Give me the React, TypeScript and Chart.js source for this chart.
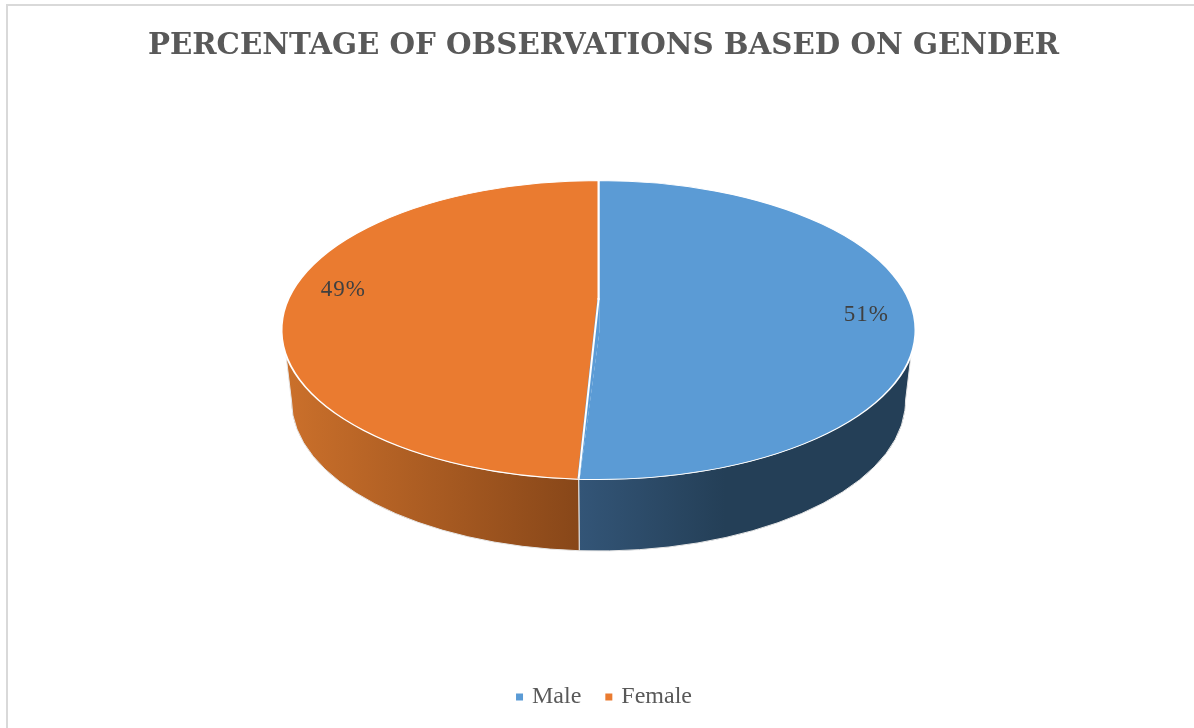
import React, { useEffect, useRef } from "react";
import { Chart, registerables } from "chart.js";

Chart.register(...registerables);

const categories = ["Male", "Female"];
const shares = [51, 49];
const sliceColors = ["#5B9BD5", "#EA7B30"];
const chartTitle = "PERCENTAGE OF OBSERVATIONS BASED ON GENDER";

// Tilted-disc geometry, in canvas pixels. apexY is where the slices meet once
// perspective pulls the pie's centre towards the far edge.
const DISC = { cx: 598.5, cy: 330, apexY: 300, rx: 317, ry: 149.5, floorCy: 401, floorRx: 307, floorRy: 150 };
const WALL_START = 0.135; // angle at which the rim's side face becomes visible
const wallRamps = [
  { from: 579, to: 725, stops: ["#335577", "#243F57"] },
  { from: 285, to: 578, stops: ["#CB702B", "#884719"] },
];
const labelPlacement = [
  { radial: 0.845, lift: -19 },
  { radial: 0.805, lift: -36 },
];

const tiltedPie = {
  id: "tiltedPie",
  afterLayout(chart: any) {
    // Nudge the legend row to the right of the title's centre line.
    chart.legend.left += 2;
    chart.legend.right += 2;
  },
  beforeDatasetsDraw(chart: any) {
    const { ctx } = chart;
    const arcs = chart.getDatasetMeta(0).data;
    ctx.save();
    // Side face: the part of each slice on the near half of the disc.
    arcs.forEach((arc: any, i: number) => {
      const p = arc.getProps(["startAngle", "endAngle"], true);
      const lo = WALL_START;
      const hi = Math.PI - WALL_START;
      const a0 = Math.max(p.startAngle, lo);
      const a1 = Math.min(p.endAngle, hi);
      if (a1 <= a0) return;
      const b0 = a0 === lo ? 0 : a0;
      const b1 = a1 === hi ? Math.PI : a1;
      ctx.beginPath();
      ctx.ellipse(DISC.cx, DISC.cy, DISC.rx - 1, DISC.ry, 0, a0, a1);
      ctx.ellipse(DISC.cx, DISC.floorCy, DISC.floorRx, DISC.floorRy, 0, b1, b0, true);
      ctx.closePath();
      const ramp = wallRamps[i];
      const g = ctx.createLinearGradient(ramp.from, 0, ramp.to, 0);
      g.addColorStop(0, ramp.stops[0]);
      g.addColorStop(1, ramp.stops[1]);
      ctx.fillStyle = g;
      ctx.fill();
      ctx.strokeStyle = "#E6E6E6";
      ctx.lineWidth = 1;
      ctx.stroke();
    });
    ctx.restore();
    // The slices themselves are drawn by Chart.js through a flattening transform.
    const first = arcs[0];
    ctx.save();
    ctx.translate(DISC.cx, DISC.cy);
    ctx.scale(1, DISC.ry / DISC.rx);
    ctx.translate(-first.x, -first.y);
  },
  afterDatasetsDraw(chart: any) {
    const { ctx } = chart;
    ctx.restore();
    const arcs = chart.getDatasetMeta(0).data;

    // Move the near seam so it runs from the perspective apex to its rim point.
    const seam = arcs[1].getProps(["startAngle"], true).startAngle;
    const rimX = DISC.cx + DISC.rx * Math.cos(seam);
    const rimY = DISC.cy + DISC.ry * Math.sin(seam);
    ctx.save();
    ctx.beginPath();
    ctx.ellipse(DISC.cx, DISC.cy, DISC.rx - 1.5, DISC.ry - 0.8, 0, 0, Math.PI * 2);
    ctx.clip();
    ctx.beginPath();
    ctx.moveTo(DISC.cx, DISC.apexY);
    ctx.lineTo(DISC.cx, DISC.cy);
    ctx.lineTo(rimX, rimY);
    ctx.closePath();
    ctx.fillStyle = sliceColors[0];
    ctx.strokeStyle = sliceColors[0];
    ctx.lineWidth = 2.5;
    ctx.fill();
    ctx.stroke();
    ctx.beginPath();
    ctx.moveTo(DISC.cx, DISC.apexY - 2);
    ctx.lineTo(DISC.cx, DISC.apexY);
    ctx.lineTo(rimX, rimY);
    ctx.strokeStyle = "#FFFFFF";
    ctx.lineWidth = 2;
    ctx.stroke();
    ctx.restore();

    ctx.save();
    ctx.font = "23px 'Liberation Serif'";
    ctx.fillStyle = "#404040";
    ctx.textAlign = "center";
    ctx.textBaseline = "middle";
    ctx.letterSpacing = "1px";
    arcs.forEach((arc: any, i: number) => {
      const p = arc.getProps(["startAngle", "endAngle"], true);
      const mid = (p.startAngle + p.endAngle) / 2;
      const place = labelPlacement[i];
      const x = DISC.cx + DISC.rx * place.radial * Math.cos(mid);
      const y = DISC.cy + DISC.ry * place.radial * Math.sin(mid) + place.lift;
      ctx.fillText(`${shares[i]}%`, x, y);
    });
    ctx.restore();
  },
};

// Thin frame around the chart space.
const frame = {
  id: "frame",
  beforeDraw(chart: any) {
    const { ctx, width, height } = chart;
    ctx.save();
    ctx.fillStyle = "#FFFFFF";
    ctx.fillRect(0, 0, width, height);
    ctx.strokeStyle = "#D9D9D9";
    ctx.lineWidth = 2;
    ctx.beginPath();
    ctx.moveTo(7, height + 2);
    ctx.lineTo(7, 5);
    ctx.lineTo(width + 2, 5);
    ctx.stroke();
    ctx.restore();
  },
};

export default function App() {
  const ref = useRef<HTMLCanvasElement>(null);
  useEffect(() => {
    document.body.style.margin = "0";
    const chart = new Chart(ref.current!, {
      type: "pie",
      data: {
        labels: categories,
        datasets: [
          {
            data: shares,
            backgroundColor: sliceColors,
            borderColor: "#FFFFFF",
            borderWidth: 2,
            clip: false,
          } as any,
        ],
      },
      options: {
        responsive: false,
        animation: false,
        radius: DISC.rx,
        layout: { padding: { left: 13, right: 0, top: 0, bottom: 9 } },
        plugins: {
          tooltip: { enabled: false },
          title: {
            display: true,
            text: chartTitle,
            color: "#595959",
            font: { family: "'DejaVu Serif'", size: 29.3, weight: "bold" },
            padding: { top: 29, bottom: 20 },
          },
          legend: {
            position: "bottom",
            labels: {
              color: "#595959",
              font: { family: "'Liberation Serif'", size: 24 },
              usePointStyle: true,
              pointStyle: "rect",
              boxWidth: 1,
              boxHeight: 9,
              padding: 27,
            },
          },
        },
      } as any,
      plugins: [frame, tiltedPie],
    });
    return () => chart.destroy();
  }, []);
  return <canvas ref={ref} width={1194} height={728} style={{ display: "block" }} />;
}
